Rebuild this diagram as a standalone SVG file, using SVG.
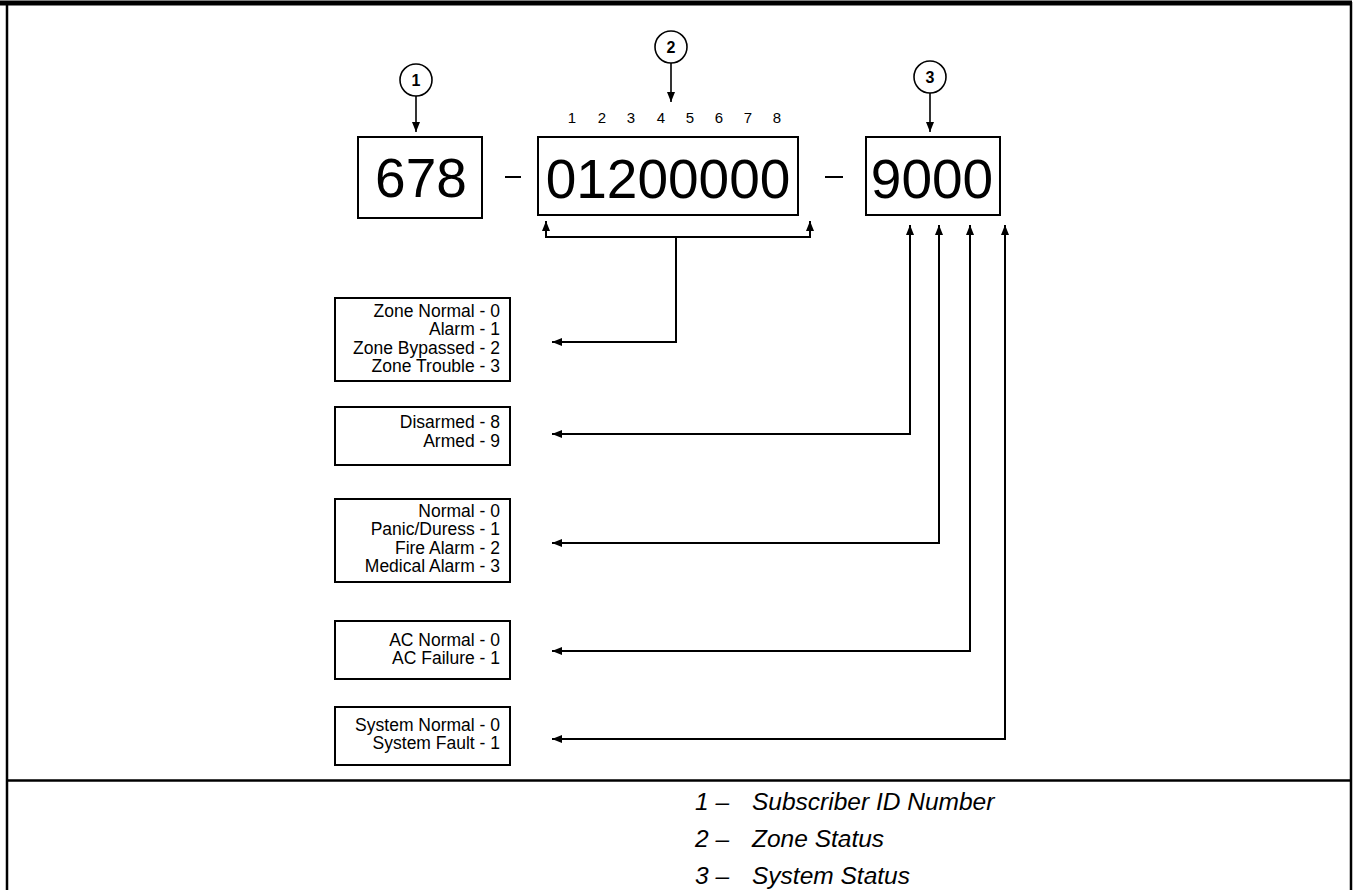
<svg xmlns="http://www.w3.org/2000/svg" width="1356" height="890" viewBox="0 0 1356 890">
<style>
.frame{stroke:#000;fill:none}
.box{fill:#fff;stroke:#000;stroke-width:2}
.big{font-family:"Liberation Sans",Arial,sans-serif;font-size:55px;text-anchor:middle;fill:#000}
.lbl{font-family:"Liberation Sans",Arial,sans-serif;font-size:17.5px;text-anchor:end;fill:#000}
.dig{font-family:"Liberation Sans",Arial,sans-serif;font-size:15px;text-anchor:middle;fill:#000}
.cnum{font-family:"Liberation Sans",Arial,sans-serif;font-size:16px;font-weight:bold;text-anchor:middle;fill:#000}
.leg{font-family:"Liberation Sans",Arial,sans-serif;font-size:24.5px;font-style:italic;fill:#000}
.con{fill:none;stroke:#000;stroke-width:2}
.thin{fill:none;stroke:#000;stroke-width:1.6}
.circ{fill:#fff;stroke:#000;stroke-width:1.6}
</style>
<defs>
<marker id="ah" markerUnits="userSpaceOnUse" markerWidth="10" markerHeight="8" viewBox="0 0 10 8" refX="10" refY="4" orient="auto-start-reverse">
<path d="M0,0 L10,4 L0,8 z" fill="#000"/>
</marker>
</defs>
<rect width="1356" height="890" fill="#fff"/>
<g id="frame">
<line class="frame" x1="0" y1="3" x2="1352" y2="3" stroke-width="5"/>
<line class="frame" x1="7" y1="2" x2="7" y2="890" stroke-width="2.5"/>
<line class="frame" x1="1351" y1="2" x2="1351" y2="890" stroke-width="2.5"/>
<line class="frame" x1="7" y1="780.5" x2="1351" y2="780.5" stroke-width="2.5"/>
</g>
<g id="connectors">
<line class="thin" x1="416" y1="96" x2="416" y2="132" marker-end="url(#ah)"/>
<line class="thin" x1="671" y1="63" x2="671" y2="102" marker-end="url(#ah)"/>
<line class="thin" x1="930" y1="93" x2="930" y2="132" marker-end="url(#ah)"/>
<path class="con" d="M546,221 V237 H810 V221" marker-start="url(#ah)" marker-end="url(#ah)"/>
<path class="con" d="M676,237 V342 H552" marker-end="url(#ah)"/>
<path class="con" d="M552,434 H910 V225" marker-start="url(#ah)" marker-end="url(#ah)"/>
<path class="con" d="M552,543 H939 V225" marker-start="url(#ah)" marker-end="url(#ah)"/>
<path class="con" d="M552,651 H970 V225" marker-start="url(#ah)" marker-end="url(#ah)"/>
<path class="con" d="M552,739 H1005 V225" marker-start="url(#ah)" marker-end="url(#ah)"/>
<line class="con" x1="505" y1="177" x2="521" y2="177"/>
<line class="con" x1="825" y1="177" x2="843" y2="177"/>
</g>
<g id="callout1">
<circle class="circ" cx="416" cy="80" r="16"/>
<text class="cnum" x="416" y="86">1</text>
</g>
<g id="callout2">
<circle class="circ" cx="671" cy="47" r="16"/>
<text class="cnum" x="671" y="53">2</text>
</g>
<g id="callout3">
<circle class="circ" cx="930" cy="77" r="16"/>
<text class="cnum" x="930" y="83">3</text>
</g>
<g id="digits">
<text class="dig" x="572" y="123">1</text>
<text class="dig" x="602" y="123">2</text>
<text class="dig" x="631" y="123">3</text>
<text class="dig" x="661" y="123">4</text>
<text class="dig" x="690" y="123">5</text>
<text class="dig" x="719" y="123">6</text>
<text class="dig" x="748" y="123">7</text>
<text class="dig" x="777" y="123">8</text>
</g>
<g id="box-id">
<rect class="box" x="358" y="137" width="124" height="81"/>
<text class="big" x="421" y="197">678</text>
</g>
<g id="box-zone">
<rect class="box" x="538" y="137" width="260" height="78"/>
<text class="big" x="668" y="198">01200000</text>
</g>
<g id="box-system">
<rect class="box" x="866" y="137" width="134" height="78"/>
<text class="big" x="932" y="198">9000</text>
</g>
<g id="zone-codes">
<rect class="box" x="335" y="298" width="175" height="83"/>
<text class="lbl" x="500" y="317">Zone Normal - 0</text>
<text class="lbl" x="500" y="335">Alarm - 1</text>
<text class="lbl" x="500" y="354">Zone Bypassed - 2</text>
<text class="lbl" x="500" y="372">Zone Trouble - 3</text>
</g>
<g id="arm-codes">
<rect class="box" x="335" y="407" width="175" height="58"/>
<text class="lbl" x="500" y="428">Disarmed - 8</text>
<text class="lbl" x="500" y="447">Armed - 9</text>
</g>
<g id="alarm-codes">
<rect class="box" x="335" y="499" width="175" height="83"/>
<text class="lbl" x="500" y="517">Normal - 0</text>
<text class="lbl" x="500" y="535">Panic/Duress - 1</text>
<text class="lbl" x="500" y="554">Fire Alarm - 2</text>
<text class="lbl" x="500" y="572">Medical Alarm - 3</text>
</g>
<g id="ac-codes">
<rect class="box" x="335" y="621" width="175" height="58"/>
<text class="lbl" x="500" y="646">AC Normal - 0</text>
<text class="lbl" x="500" y="664">AC Failure - 1</text>
</g>
<g id="system-codes">
<rect class="box" x="335" y="707" width="175" height="58"/>
<text class="lbl" x="500" y="731">System Normal - 0</text>
<text class="lbl" x="500" y="749">System Fault - 1</text>
</g>
<g id="legend">
<text class="leg" x="695" y="810">1 –</text>
<text class="leg" x="752" y="810">Subscriber ID Number</text>
<text class="leg" x="695" y="847">2 –</text>
<text class="leg" x="752" y="847">Zone Status</text>
<text class="leg" x="695" y="884">3 –</text>
<text class="leg" x="752" y="884">System Status</text>
</g>
</svg>
